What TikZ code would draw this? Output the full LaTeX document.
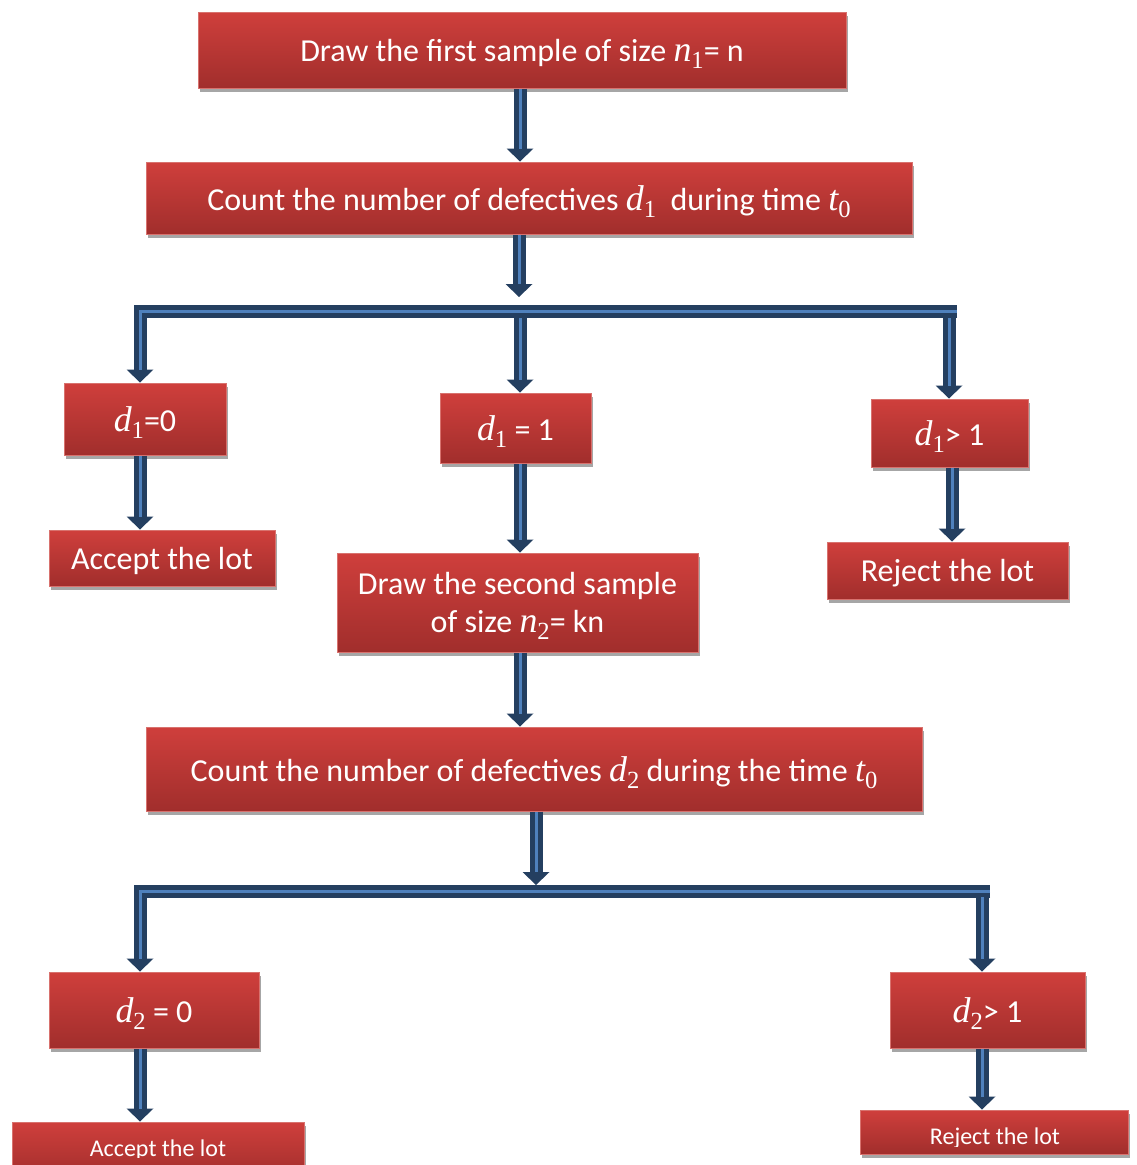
\documentclass[tikz,border=0pt]{standalone}
\usepackage{fontspec}
\setmainfont{Carlito}
\newfontfamily\varfont{Liberation Serif}[Scale=1.12]
\newcommand\vv[2]{{\varfont\itshape #1}\raisebox{-0.22em}{\fontsize{22}{22}\selectfont\varfont #2}}
\usetikzlibrary{arrows.meta,shadows}
\definecolor{navyc}{HTML}{243F60}
\definecolor{lbluec}{HTML}{4F81BD}
\definecolor{rtop}{HTML}{CF3F3C}
\definecolor{rbot}{HTML}{A12E2C}
\definecolor{redge}{HTML}{D8726E}
\tikzset{
  box/.style={top color=rtop, bottom color=rbot, draw=redge, line width=1pt,
    text=white, inner sep=0pt, align=center, text depth=0pt,
    font=\fontsize{32}{38}\selectfont,
    drop shadow={shadow xshift=1.5pt, shadow yshift=-4pt, fill=black!35, opacity=1}},
  smalltxt/.style={text=white, inner sep=0pt, font=\fontsize{24}{28}\selectfont},
  shaft/.style={navyc, line width=13pt, miter limit=10,
    -{Triangle[width=27pt,length=13pt,line width=0pt]}},
  stripe/.style={lbluec, line width=3pt, shorten >=13pt},
}
\newcommand\bigarrow[2]{%
  \draw[shaft] #1 -- #2;
  \draw[stripe] #1 -- #2;}
\begin{document}
\begin{tikzpicture}[x=1pt,y=-1pt]
\useasboundingbox (0,0) rectangle (1136,1165);

% boxes
\node[box, minimum width=648, minimum height=76] (top) at (522,50)
  {Draw the first sample of size \vv{n}{1}= n};
\node[box, minimum width=766, minimum height=72] (count) at (529,198)
  {Count the number of defectives \vv{d}{1}\ \ during time \vv{t}{0}};
\node[box, minimum width=162, minimum height=72] (d10) at (145,419) {\vv{d}{1}=0};
\node[box, minimum width=151, minimum height=70] (d11) at (515.5,428) {\vv{d}{1} = 1};
\node[box, minimum width=157, minimum height=68] (d1g) at (949.5,433) {\vv{d}{1}> 1};
\node[box, minimum width=226, minimum height=56] (acc1) at (162,558) {Accept the lot};
\node[box, minimum width=361, minimum height=99] (second) at (517.5,602.5)
  {Draw the second sample\\of size \vv{n}{2}= kn};
\node[box, minimum width=241, minimum height=57] (rej1) at (947.5,570.5) {Reject the lot};
\node[box, minimum width=776, minimum height=84] (count2) at (534,769)
  {Count the number of defectives \vv{d}{2} during the time \vv{t}{0}};
\node[box, minimum width=210, minimum height=76] (d20) at (154,1010) {\vv{d}{2} = 0};
\node[box, minimum width=195, minimum height=76] (d2g) at (987.5,1010) {\vv{d}{2}> 1};
\node[box, minimum width=292, minimum height=58] (acc2) at (158,1151) {};
\node[box, minimum width=268, minimum height=44] (rej2) at (994,1132) {};
\begin{scope}
  \clip (0,1100) rectangle (320,1157);
  \node[smalltxt] (acc2t) at (158,1150) {Accept the lot};
\end{scope}
\begin{scope}
  \clip (850,1100) rectangle (1136,1146);
  \node[smalltxt] (rej2t) at (995,1138) {Reject the lot};
\end{scope}

% x positions
\coordinate (xa) at (520,0);
\coordinate (xb) at (519,0);
\coordinate (xc) at (536,0);
\coordinate (xl) at (140,0);
\coordinate (xr2) at (952,0);
\coordinate (xq) at (982,0);

% bar 1
\coordinate (b1L) at (140,311.5);
\coordinate (b1R) at (957,311.5);
\coordinate (b1M) at (520,318);
\coordinate (b1Rv) at (949,318);
\coordinate (b1T) at (519,297);
% bar 2
\coordinate (b2L) at (140,891);
\coordinate (b2R) at (990,891);
\coordinate (b2Rv) at (982,897);
\coordinate (b2T) at (536,885);

% arrows
\bigarrow{(xa |- top.south)}{(xa |- count.north)}
\bigarrow{(xb |- count.south)}{(b1T)}
\draw[shaft] (b1R) -- (b1L) -- (b1L |- d10.north);
\draw[stripe] (b1R) -- (b1L) -- (b1L |- d10.north);
\bigarrow{(b1M)}{(b1M |- d11.north)}
\bigarrow{(b1Rv)}{(b1Rv |- d1g.north)}
\bigarrow{(xl |- d10.south)}{(xl |- acc1.north)}
\bigarrow{(xa |- d11.south)}{(xa |- second.north)}
\bigarrow{(xr2 |- d1g.south)}{(xr2 |- rej1.north)}
\bigarrow{(xa |- second.south)}{(xa |- count2.north)}
\bigarrow{(xc |- count2.south)}{(b2T)}
\draw[shaft] (b2R) -- (b2L) -- (b2L |- d20.north);
\draw[stripe] (b2R) -- (b2L) -- (b2L |- d20.north);
\bigarrow{(b2Rv)}{(b2Rv |- d2g.north)}
\bigarrow{(xl |- d20.south)}{(xl |- acc2.north)}
\bigarrow{(xq |- d2g.south)}{(xq |- rej2.north)}
\end{tikzpicture}
\end{document}
